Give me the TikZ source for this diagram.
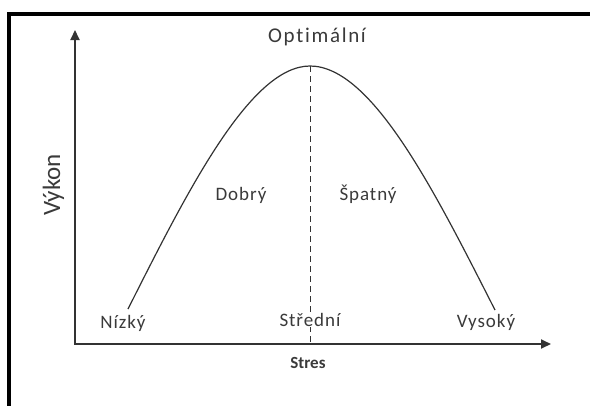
\documentclass[tikz,border=0pt]{standalone}
\usepackage{fontspec}
\setmainfont[Ligatures=NoCommon]{Carlito}
\usetikzlibrary{arrows.meta}
\definecolor{txt}{HTML}{3A3A3A}
\definecolor{ax}{HTML}{333333}
\tikzset{
 lbl/.style={text=txt, anchor=base, inner sep=1pt, font=\fontsize{19}{19}\selectfont\addfontfeatures{LetterSpace=5}},
 biglbl/.style={text=txt, anchor=base, inner sep=1pt, font=\fontsize{21}{21}\selectfont\addfontfeatures{LetterSpace=8}},
 vlbl/.style={text=txt, anchor=base, inner sep=1pt, rotate=90, font=\fontsize{25}{25}\selectfont},
 slbl/.style={text=txt, anchor=base, inner sep=1pt, font=\fontsize{17}{17}\selectfont\bfseries},
 axisline/.style={draw=ax, line width=2pt, arrows={Triangle[length=10pt,width=9pt]-Triangle[length=10pt,width=9pt]}},
 curveline/.style={draw=ax, line width=1.2pt},
 dashline/.style={draw=ax, line width=1pt, dash pattern=on 6pt off 4pt},
 frameline/.style={draw=black, line width=4pt},
}
\begin{document}
\begin{tikzpicture}[x=1pt,y=-1pt]
\useasboundingbox (0,0) rectangle (590,405);
% frame
\coordinate (fl) at (9,407);
\coordinate (fc) at (9,14);
\coordinate (fr) at (592,14);
\draw[frameline] (fl) -- (fc) -- (fr);
% axes
\coordinate (O) at (75,344);
\coordinate (ytop) at (75,30);
\coordinate (xend) at (551,344);
\draw[axisline] (ytop) -- (O) -- (xend);
% curve
\coordinate (cs) at (128,309);
\coordinate (c1) at (187,192);
\coordinate (c2) at (250,66);
\coordinate (pk) at (310,66);
\coordinate (c3) at (372,66);
\coordinate (c4) at (435,192);
\coordinate (ce) at (495,310);
\draw[curveline] (cs) .. controls (c1) and (c2) .. (pk) .. controls (c3) and (c4) .. (ce);
% dashed
\coordinate (mid) at (310,344);
\draw[dashline] (pk) -- (mid);
% labels
\node[biglbl] (opt) at (317,42) {Optimální};
\node[vlbl] (vyk) at (60,185) {Výkon};
\node[lbl] (dob) at (241,200) {Dobrý};
\node[lbl] (spa) at (368,200) {Špatný};
\node[lbl] (niz) at (123,328) {Nízký};
\node[lbl, fill=white] (str) at (310,326) {Střední};
\node[lbl] (vys) at (486,327) {Vysoký};
\node[slbl] (stres) at (308,368) {Stres};
\end{tikzpicture}
\end{document}
